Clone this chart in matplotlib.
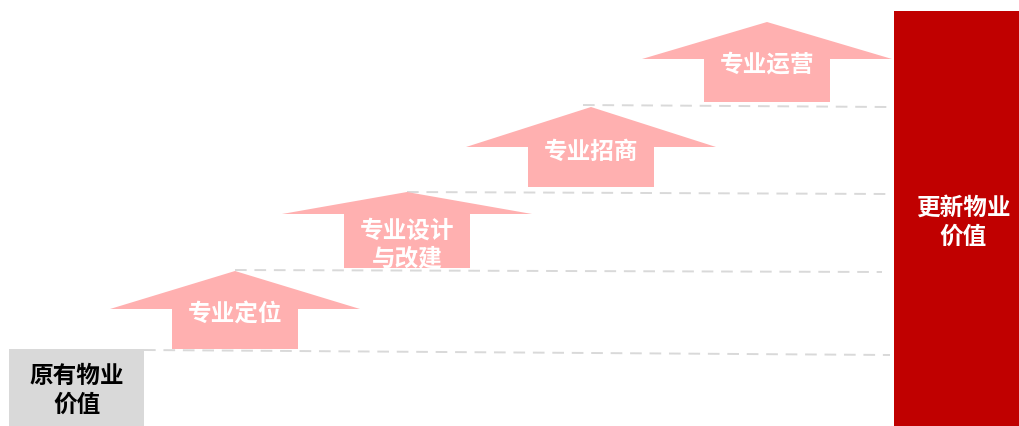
import matplotlib
matplotlib.use("Agg")
import matplotlib.pyplot as plt
from matplotlib.patches import Polygon, Rectangle

plt.rcParams['font.family'] = ['Noto Sans CJK SC', 'DejaVu Sans']

# Diagram content
stage_labels = ["专业定位", "专业设计\n与改建", "专业招商", "专业运营"]
start_label = "原有物业\n价值"
end_label = "更新物业\n价值"

# Step geometry (pixel-like units, y grows downward)
arrow_cx = [235, 407, 591, 767]
arrow_tip = [272, 193, 108, 23]
arrow_headbase = [310, 215, 148, 60]
arrow_bottom = [350, 269, 188, 103]
head_half = 125
shaft_half = 63

guide_x0 = [144, 235, 407, 583]
guide_y0 = [351, 271, 193, 106]
guide_x1 = [890, 882, 888, 888]
guide_y1 = [356, 273, 195, 108]

W, H = 1019, 427
fig = plt.figure(figsize=(W / 100, H / 100), dpi=100)
ax = fig.add_axes([0, 0, 1, 1])
ax.set_xlim(0, W)
ax.set_ylim(H, 0)
ax.axis('off')

pink = '#FFB0B0'
red = '#C00000'
gray = '#D9D9D9'
fs = 17

# guide dashed lines
for x0, y0, x1, y1 in zip(guide_x0, guide_y0, guide_x1, guide_y1):
    ax.plot([x0, x1], [y0, y1], color=gray, lw=1.4, dashes=(6, 4), zorder=1)

# start box
ax.add_patch(Rectangle((9, 350), 135, 77, color=gray, zorder=2, lw=0))
ax.text(77, 390, start_label, ha='center', va='center', fontsize=fs,
        fontweight='bold', color='black', linespacing=1.25, zorder=3)

# end box
ax.add_patch(Rectangle((894, 12), 125, 415, color=red, zorder=2, lw=0))
ax.text(963, 222, end_label, ha='center', va='center', fontsize=fs,
        fontweight='bold', color='white', linespacing=1.25, zorder=3)

# arrows
for cx, tip, hb, bot, lab in zip(arrow_cx, arrow_tip, arrow_headbase, arrow_bottom, stage_labels):
    pts = [(cx, tip), (cx + head_half, hb), (cx + shaft_half, hb), (cx + shaft_half, bot),
           (cx - shaft_half, bot), (cx - shaft_half, hb), (cx - head_half, hb)]
    ax.add_patch(Polygon(pts, closed=True, color=pink, lw=0, zorder=2))
    if '\n' in lab:
        ty = 245
    else:
        ty = hb + 4
    ax.text(cx, ty, lab, ha='center', va='center', fontsize=fs,
            fontweight='bold', color='white', linespacing=1.2, zorder=3)

fig.savefig('out.png', dpi=100)
